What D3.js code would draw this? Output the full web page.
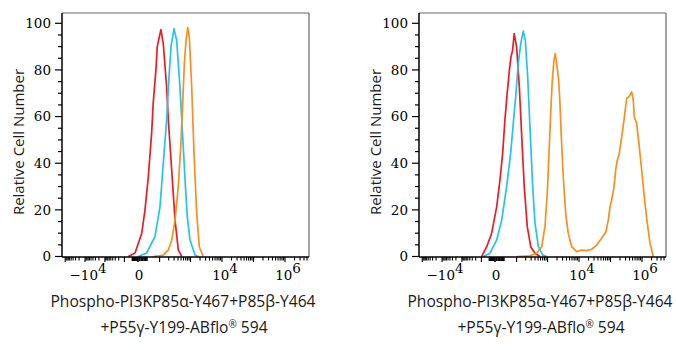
<!DOCTYPE html>
<html><head><meta charset="utf-8">
<script src="https://cdn.jsdelivr.net/npm/d3@7"></script>
<style>body{margin:0;background:#fff}svg{display:block}</style>
</head><body>
<svg id="c" width="676" height="350"></svg>
<script>
// ---- data (fluorescence intensity vs relative cell number) ----
const leftRedX  = [-59,-15,12,23,35.5,50.5,58.5,74,82.5,97,111,133,172,195,251,321,408,525];
const leftRedY  = [0,1.5,10,20,34,53,66,80,90,94,97.3,91.3,72.7,58.5,37,15.6,2.8,0];
const leftCyanX = [1,29,68,103,133,172,205,239,298,362,461,565,669,790,963,1390,1760];
const leftCyanY = [0,1.5,8.5,21.3,39.8,58.5,77,90,97.7,92.7,72.7,51.3,32.8,17,7.1,0.6,0];
const leftOrangeX = [58,133,195,251,321,408,488,565,635,720,815,915,1090,1290,1570,1900,2545];
const leftOrangeY = [0,0.6,2.8,7,15.6,30,47,65.7,82.7,92.7,98.2,94.1,72.7,44.3,18.6,4.2,0];

const rightRedX = [-96,-48,-17,5.3,16,25.5,34,43.5,54,62.5,72,82.5,100,124,149,180,226,291,400,577];
const rightRedY = [0,4.2,10,21.3,32.8,44.3,58.5,69.9,79.9,85.6,88.4,95.6,89.9,72.7,51.3,29.9,12.8,4.2,1.4,0];
const rightCyanX = [-78,-26,5.3,22,41,61,76,95,114,138,167,195,233,277,337,400,512,703,940];
const rightCyanY = [0,1.4,7.1,15.6,29.9,44.3,57,69.9,82.7,91.3,96.7,92.7,77,54.8,29.9,14.2,4.2,0.6,0];
const rightOrangeX = [101,277,452,653,830,982,1113,1260,1417,1604,1763,1956,2262,2485,2739,3165,3771,4564,5854,8441,12145,17516,25260,36420,52400,71850,85000,96250,109000,129000,146000,164200,189900,226000,267600,326000,394000,470000,528000,568000,677000,819000,976000,1181000,1470000,1792000,2277000];
const rightOrangeY = [0,0.3,1.4,4.2,12.8,27,44.2,61.3,75.6,84.2,87,82.7,75.6,65.6,51.3,34.2,18.5,9.9,4.2,2.1,2.8,2.5,3.1,4.9,7.8,10.6,15.6,21.3,24.2,29.9,37,41.3,44.2,51.3,58.5,67.8,68.7,70.6,67,59.9,57,47,37,25.6,14.2,5.7,0];

const yTicks = [0,20,40,60,80,100];
const xTickValues = [-1e4, 0, 1e4, 1e6];
const xTickBase = ["\u221210", "0", "10", "10"];
const xTickExp  = ["4", "", "4", "6"];
const xDomain = [-1.45e5, 5.77e6];
const yDomain = [0, 100];
const xTitle1 = "Phospho-PI3KP85\u03b1-Y467+P85\u03b2-Y464";
const xTitle2a = "+P55\u03b3-Y199-ABflo";
const xTitle2b = "\u00ae";
const xTitle2c = " 594";
const yTitle = "Relative Cell Number";
const colors = {red:"#ec1c24", cyan:"#22c4ee", orange:"#f7901e"};

// ---- biexponential-like transform ----
function biex(v){ const t = Math.asinh(v/43)/Math.LN10; return v < 0 ? t*0.63 : t; }

const W = 247, H = 244;
const svg = d3.select("#c");
const sans = "Open Sans";

function panel(ox, series){
  const g = svg.append("g").attr("transform", `translate(${ox},13)`);
  const xs = d3.scaleLinear().domain(xDomain.map(biex)).range([0, W]);
  const x = v => xs(biex(v));
  const y = d3.scaleLinear().domain(yDomain).range([243.5, 10.3]);

  // frame
  g.append("line").attr("x1",0).attr("x2",W).attr("y1",0).attr("y2",0).attr("stroke","#666").attr("stroke-width",1.2);
  g.append("line").attr("x1",W).attr("x2",W).attr("y1",0).attr("y2",H).attr("stroke","#666").attr("stroke-width",1.2);

  // curves
  const line = d3.line().x(d=>x(d[0])).y(d=>y(d[1]));
  series.forEach(s=>{
    const pts = s.xs.map((v,i)=>[v, s.ys[i]]);
    g.append("path").attr("d", line(pts)).attr("fill","none")
      .attr("stroke", s.color).attr("stroke-width",1.7).attr("stroke-linejoin","round");
  });

  // axes lines
  g.append("line").attr("x1",0).attr("x2",W).attr("y1",H).attr("y2",H).attr("stroke","#000").attr("stroke-width",1.5);
  g.append("line").attr("x1",0).attr("x2",0).attr("y1",0).attr("y2",H).attr("stroke","#000").attr("stroke-width",1.5);

  // y ticks
  d3.range(0, 101, 5).forEach(v=>{
    const major = v % 20 === 0;
    g.append("line").attr("x1", major ? -7 : -4).attr("x2",0)
      .attr("y1", y(v)).attr("y2", y(v)).attr("stroke","#000").attr("stroke-width",1.2);
  });
  yTicks.forEach(v=>{
    g.append("text").attr("x",-11).attr("y",y(v)).attr("dy","0.36em")
      .attr("text-anchor","end").attr("font-family","DejaVu Serif").attr("font-size",13.5)
      .attr("fill","#000").text(v);
  });

  // x ticks
  const tk = [];
  for (let d=2; d<=6; d++) for (let m=1; m<=9; m++){
    const v = m*Math.pow(10,d);
    if (v <= xDomain[1]) tk.push([v, m===1]);
    if (-v >= xDomain[0]) tk.push([-v, m===1]);
  }
  tk.forEach(([v,major])=>{
    const px = x(v);
    if (px < 0.5 || px > W-0.5) return;
    g.append("line").attr("x1",px).attr("x2",px).attr("y1",H).attr("y2",H+(major?5:3.5))
      .attr("stroke","#000").attr("stroke-width",1.1);
  });
  // dense linear ticks around zero
  d3.range(-30, 31, 5).forEach(v=>{
    const px = x(v);
    g.append("line").attr("x1",px).attr("x2",px).attr("y1",H).attr("y2",H+(v===0?5:4))
      .attr("stroke","#000").attr("stroke-width",1.6);
  });
  xTickValues.forEach((v,i)=>{
    const t = g.append("text").attr("x", x(v) + (xTickExp[i] ? 3 : 1)).attr("y", 267)
      .attr("text-anchor","middle").attr("font-family","DejaVu Serif").attr("font-size",13.5).attr("fill","#000");
    t.append("tspan").text(xTickBase[i]);
    if (xTickExp[i]) t.append("tspan").attr("dy",-7).text(xTickExp[i]);
  });

  // titles
  g.append("text").attr("x",121).attr("y",294).attr("text-anchor","middle")
    .attr("font-family",sans).attr("font-size",15.6).attr("fill","#1a1a1a").text(xTitle1);
  const t2 = g.append("text").attr("x",122).attr("y",320).attr("text-anchor","middle")
    .attr("font-family",sans).attr("font-size",15.6).attr("fill","#1a1a1a");
  t2.append("tspan").text(xTitle2a);
  t2.append("tspan").attr("font-size",10).attr("dy",-5).text(xTitle2b);
  t2.append("tspan").attr("dy",5).text(xTitle2c);
  g.append("text").attr("transform","rotate(-90)").attr("x",-129).attr("y",-44)
    .attr("dominant-baseline","central").attr("text-anchor","middle")
    .attr("font-family",sans).attr("font-size",15).attr("fill","#1a1a1a").text(yTitle);
}

panel(62, [
  {xs:leftRedX, ys:leftRedY, color:colors.red},
  {xs:leftCyanX, ys:leftCyanY, color:colors.cyan},
  {xs:leftOrangeX, ys:leftOrangeY, color:colors.orange}
]);
panel(419, [
  {xs:rightRedX, ys:rightRedY, color:colors.red},
  {xs:rightCyanX, ys:rightCyanY, color:colors.cyan},
  {xs:rightOrangeX, ys:rightOrangeY, color:colors.orange}
]);
</script>
</body></html>
